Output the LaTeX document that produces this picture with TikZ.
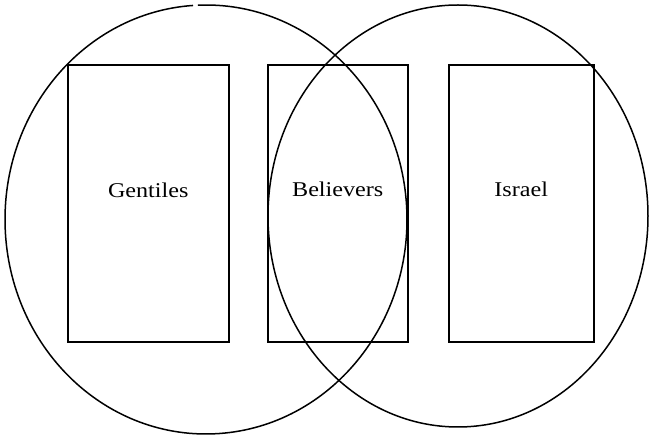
\documentclass[tikz,border=0pt]{standalone}
\usepackage{fontspec}
\setmainfont[FakeStretch=1.15]{Liberation Serif}
\begin{document}
\begin{tikzpicture}[x=1pt,y=-1pt,
  box/.style={draw,line width=1.5pt,rectangle,inner sep=0pt,anchor=north west},
  lbl/.style={font=\fontsize{21}{24}\selectfont,inner sep=0pt,anchor=base},
  ring/.style={line width=1.5pt}]
\useasboundingbox (0,0) rectangle (649,438);
% left ellipse with small gap at top
\draw[ring] (206,219.5) ++(267.7:201 and 214.5) arc[start angle=267.7,end angle=626.3,x radius=201,y radius=214.5];
% right ellipse
\draw[ring] (458,216) ellipse[x radius=190,y radius=211];
\node[box,minimum width=161,minimum height=277] (g) at (67,64.5) {};
\node[box,minimum width=140,minimum height=277] (b) at (267,64.5) {};
\node[box,minimum width=145,minimum height=277] (i) at (448,64.5) {};
\node[lbl] (gt) at (g.center |- 0,198) {Gentiles};
\node[lbl] (bt) at (b.center |- 0,197) {Believers};
\node[lbl] (it) at (i.center |- 0,197) {Israel};
\end{tikzpicture}
\end{document}
